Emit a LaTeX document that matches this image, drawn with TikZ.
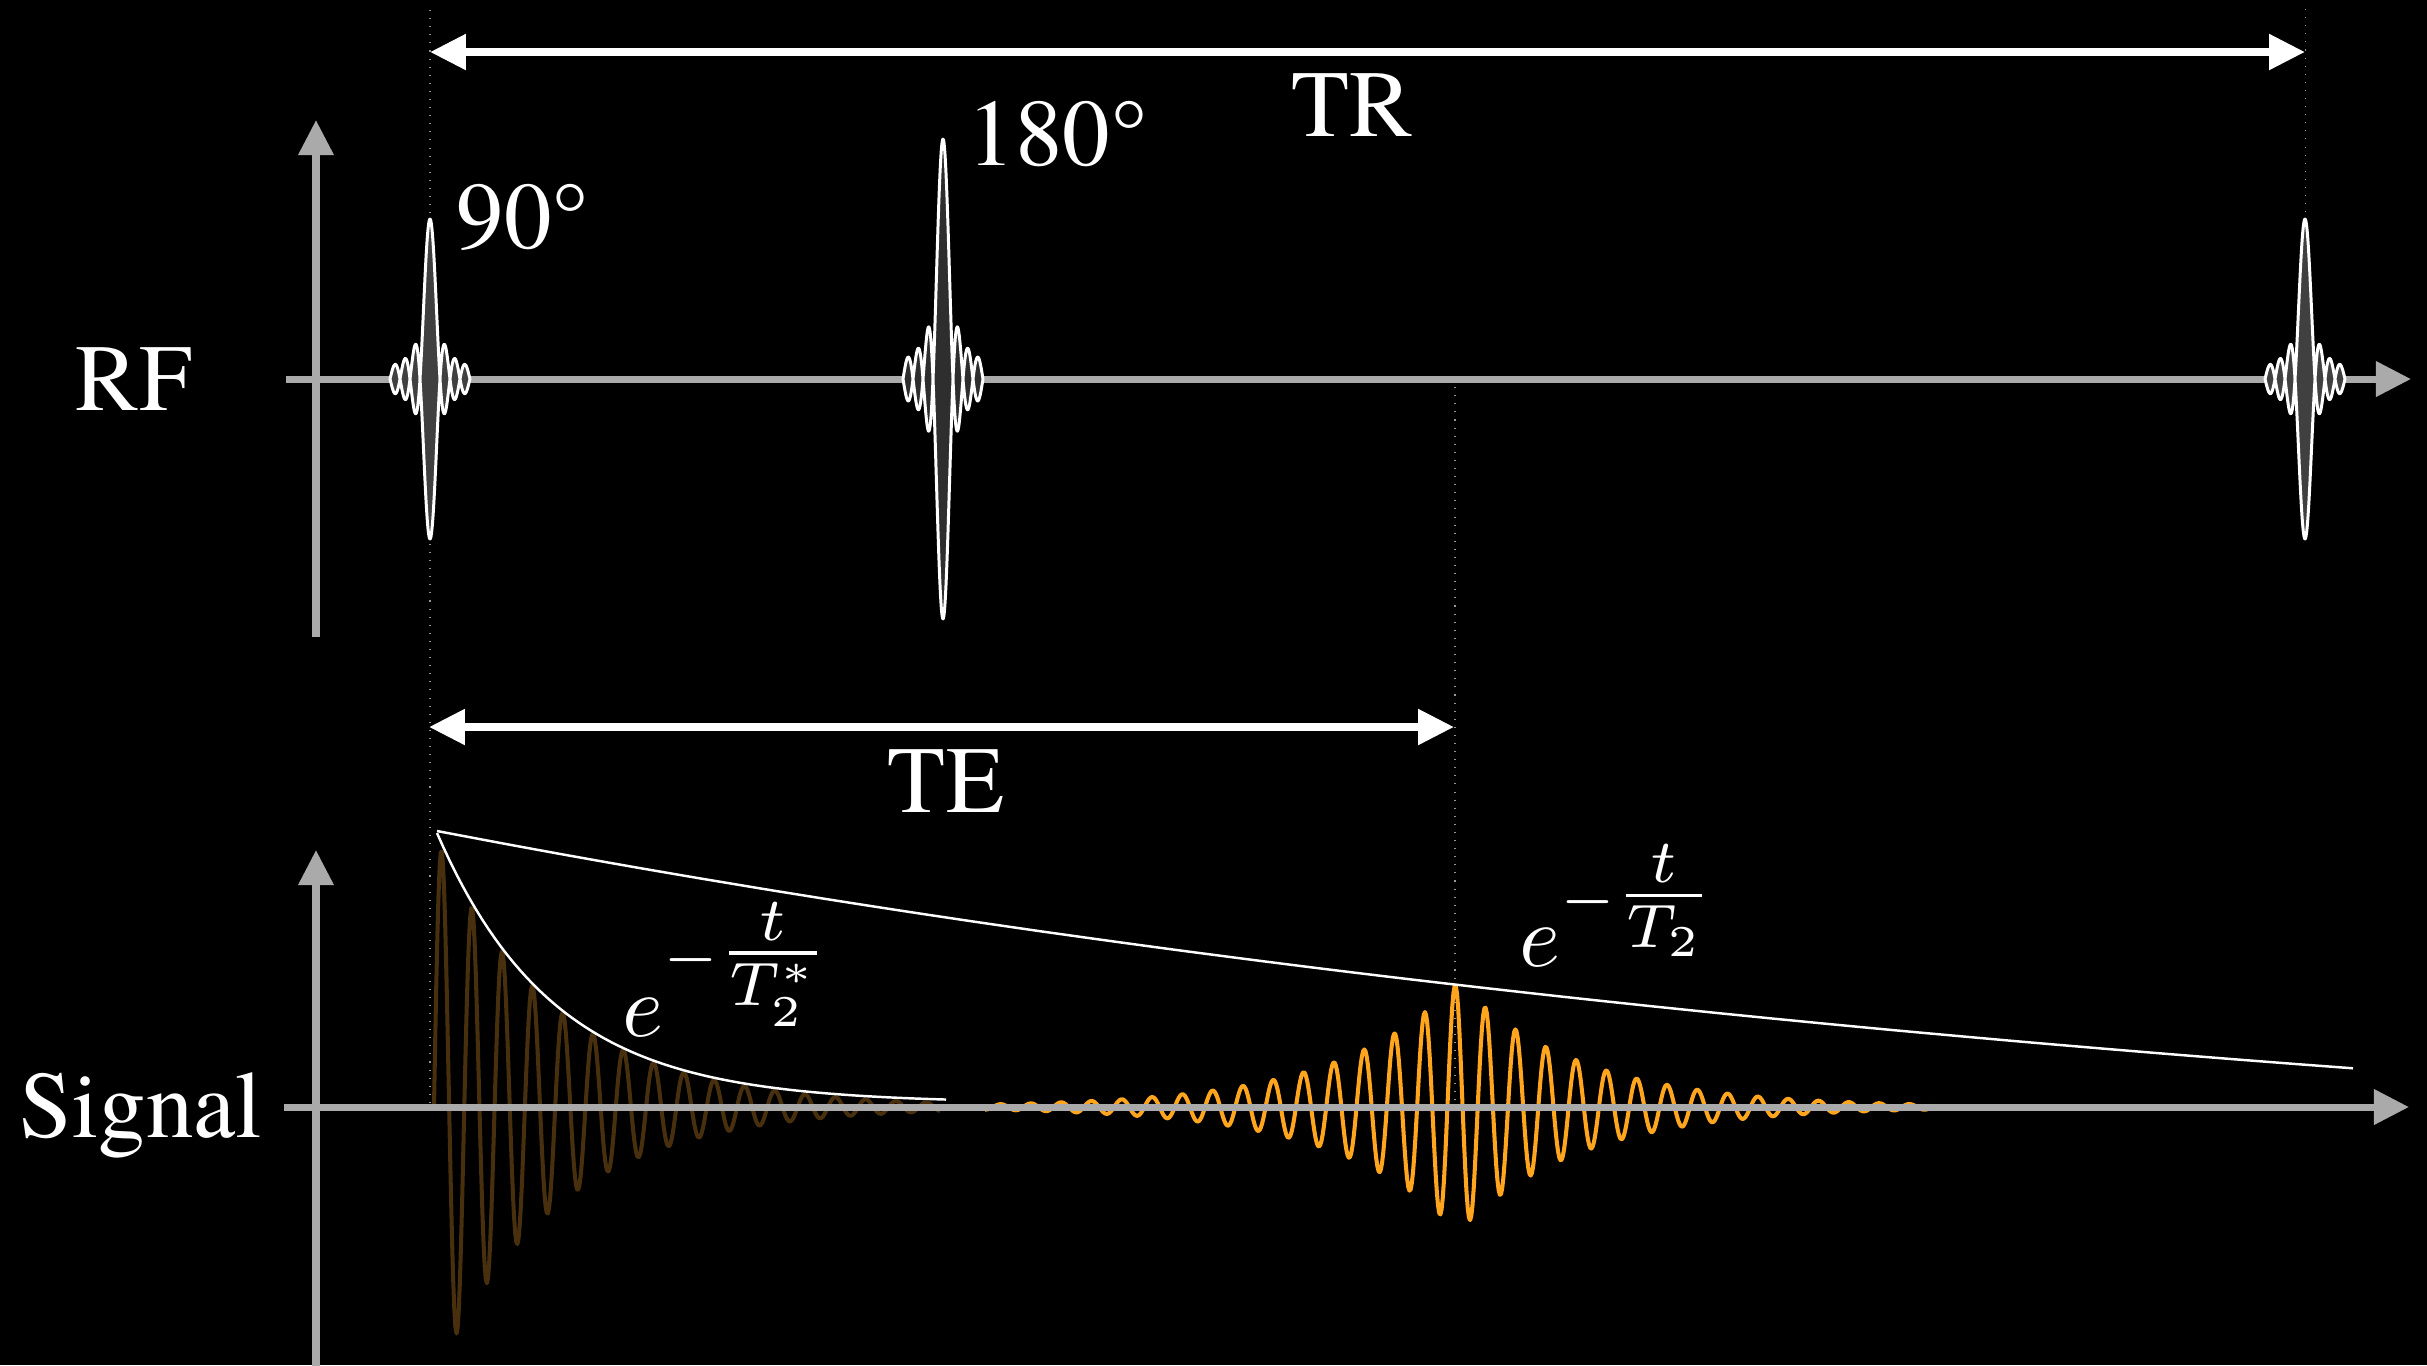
\RequirePackage{fix-cm}
\documentclass[tikz,border=0pt]{standalone}
\usepackage[no-math]{fontspec}
\usepackage{graphicx}
\setmainfont{TeX Gyre Termes}
\usetikzlibrary{arrows.meta}
\DeclareSymbolFont{operators}{OT1}{cmr}{m}{n}
\definecolor{axisgray}{RGB}{170,170,170}
\definecolor{echoorange}{RGB}{255,165,30}
\definecolor{fidbrown}{RGB}{72,48,14}
\definecolor{pulsefillA}{RGB}{64,64,64}
\definecolor{pulsefillB}{RGB}{46,46,46}
\definecolor{markgray}{RGB}{150,150,150}
\begin{document}
\begin{tikzpicture}[x=0.01cm,y=-0.01cm,
  axisline/.style={draw=axisgray, line width=2pt, -{Triangle[length=10pt,width=9.7pt]}},
  spanarrow/.style={draw=white, line width=2.2pt, {Triangle[length=10.2pt,width=9.7pt]}-{Triangle[length=10.2pt,width=9.7pt]}},
  marker/.style={draw=markgray, line width=0.3pt, dotted},
  lbl/.style={text=white, font=\fontsize{27}{32}\selectfont, inner sep=0pt},
  mathlbl/.style={text=white, inner sep=0pt},
  pulse/.style={draw=white, line width=0.85pt, line join=round},
  sig/.style={line width=1.15pt, line join=round},
  env/.style={draw=white, line width=0.7pt, line join=round}
]
\fill[black] (0,0) rectangle (2427,1365);
\useasboundingbox (0,0) rectangle (2427,1365);

% dotted time markers
\coordinate (m90top) at (430,10);
\coordinate (m90bot) at (430,1107);
\coordinate (mTRtop) at (2305,9);
\coordinate (mTRbot) at (2305,379);
\coordinate (mTEtop) at (1455,379);
\coordinate (mTEbot) at (1455,1107);
\draw[marker] (m90top) -- (m90bot);
\draw[marker] (mTRtop) -- (mTRbot);
\draw[marker] (mTEtop) -- (mTEbot);

% signals (11.881 = 360/30.3 degrees per px)
\draw[sig, fidbrown] plot[domain=434:940, samples=450, variable=\q]
  (\q, {1107-273*exp(-(\q-434)/121)*sin(11.881*(\q-434))});
\draw[sig, echoorange] plot[domain=985:1935, samples=800, variable=\q]
  (\q, {1107-125*exp(-abs(\q-1458)/121)*cos(11.881*(\q-1455))});

% axes
\coordinate (rfStart) at (286,379);
\coordinate (rfEnd) at (2411,379);
\coordinate (rfVbot) at (316,637);
\coordinate (rfVtop) at (316,120);
\coordinate (sgStart) at (284,1107);
\coordinate (sgEnd) at (2409,1107);
\coordinate (sgVbot) at (316,1370);
\coordinate (sgVtop) at (316,850);
\draw[axisline] (rfStart) -- (rfEnd);
\draw[axisline] (rfVbot) -- (rfVtop);
\draw[axisline] (sgStart) -- (sgEnd);
\draw[axisline] (sgVbot) -- (sgVtop);

% RF pulses
\foreach \cx/\amp/\fc in {430/160/pulsefillA, 943/240/pulsefillB, 2305/160/pulsefillA} {
  \filldraw[pulse, fill=\fc]
    plot[domain=-4:4, samples=200, variable=\q] ({\cx+10*\q}, {379-\amp*sin(180*\q)/(3.14159*\q)})
    -- plot[domain=4:-4, samples=200, variable=\q] ({\cx+10*\q}, {379+\amp*sin(180*\q)/(3.14159*\q)})
    -- cycle;
}

% span arrows
\coordinate (trL) at (430,52);
\coordinate (trR) at (2305,52);
\coordinate (teL) at (429,727);
\coordinate (teR) at (1454,727);
\draw[spanarrow] (trL) -- (trR);
\draw[spanarrow] (teL) -- (teR);

% envelopes
\draw[env] plot[domain=437:946, samples=80, variable=\q] (\q,{1107-270*exp(-(\q-437)/117)-4});
\draw[env] plot[domain=437:2353, samples=80, variable=\q] (\q,{1107-385*exp(-(\q-437)/2000)+109});

% labels
\node[lbl, anchor=base] (rf) at (134,410) {RF};
\node[lbl, anchor=base] (signal) at (141,1137) {Signal};
\node[lbl, anchor=base] (te) at (946,812) {TE};
\node[lbl, anchor=base] (tr) at (1352,136) {TR};
\node[lbl, anchor=base west] (p90) at (456,248) {90°};
\node[lbl, anchor=base west] (p180) at (967,165) {180°};
\node[mathlbl, anchor=base west] (t2s) at (622,1036) {\scalebox{2.5}{$e^{-{\textstyle\frac{t}{T_2^*}}}$}};
\node[mathlbl, anchor=base west] (t2) at (1519,966) {\scalebox{2.5}{$e^{-{\textstyle\frac{t}{T_2}}}$}};
\end{tikzpicture}
\end{document}
